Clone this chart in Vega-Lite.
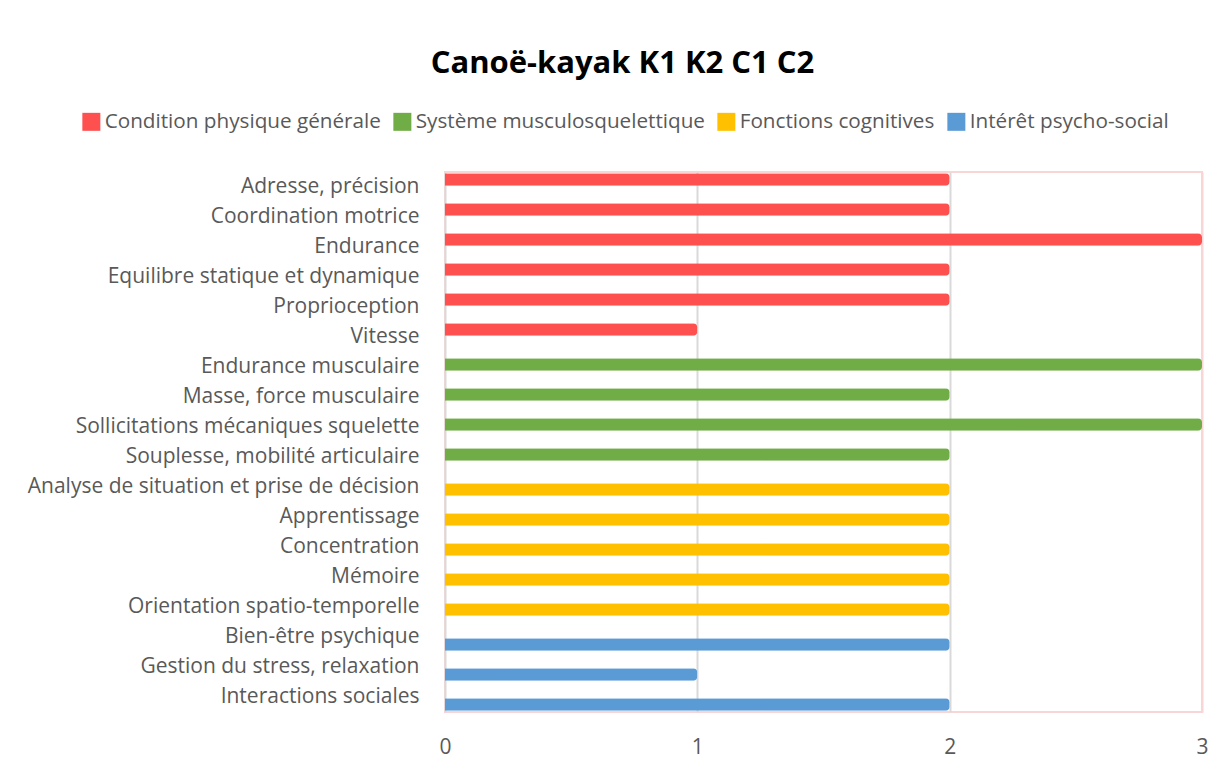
{
  "$schema": "https://vega.github.io/schema/vega-lite/v6.json",
  "autosize": {"type": "none"},
  "width": 757,
  "height": 540,
  "padding": {"left": 445, "top": 172, "right": 23, "bottom": 55},
  "background": "white",
  "config": {
    "font": "Open Sans",
    "view": {"stroke": "#f9d6d6", "strokeWidth": 2}
  },
  "title": {
    "text": "Canoë-kayak K1 K2 C1 C2",
    "font": "Open Sans",
    "fontSize": 31,
    "fontWeight": "bold",
    "color": "#000000",
    "anchor": "middle",
    "dx": -201,
    "offset": 31
  },
  "data": {
    "values": [
      {"critere": "Adresse, précision", "groupe": "Condition physique générale", "valeur": 2},
      {"critere": "Coordination motrice", "groupe": "Condition physique générale", "valeur": 2},
      {"critere": "Endurance", "groupe": "Condition physique générale", "valeur": 3},
      {"critere": "Equilibre statique et dynamique", "groupe": "Condition physique générale", "valeur": 2},
      {"critere": "Proprioception", "groupe": "Condition physique générale", "valeur": 2},
      {"critere": "Vitesse", "groupe": "Condition physique générale", "valeur": 1},
      {"critere": "Endurance musculaire", "groupe": "Système musculosquelettique", "valeur": 3},
      {"critere": "Masse,  force musculaire", "groupe": "Système musculosquelettique", "valeur": 2},
      {"critere": "Sollicitations mécaniques squelette", "groupe": "Système musculosquelettique", "valeur": 3},
      {"critere": "Souplesse, mobilité articulaire", "groupe": "Système musculosquelettique", "valeur": 2},
      {"critere": "Analyse de situation et prise de décision", "groupe": "Fonctions cognitives", "valeur": 2},
      {"critere": "Apprentissage", "groupe": "Fonctions cognitives", "valeur": 2},
      {"critere": "Concentration", "groupe": "Fonctions cognitives", "valeur": 2},
      {"critere": "Mémoire", "groupe": "Fonctions cognitives", "valeur": 2},
      {"critere": "Orientation spatio-temporelle", "groupe": "Fonctions cognitives", "valeur": 2},
      {"critere": "Bien-être psychique", "groupe": "Intérêt psycho-social", "valeur": 2},
      {"critere": "Gestion du stress, relaxation", "groupe": "Intérêt psycho-social", "valeur": 1},
      {"critere": "Interactions sociales", "groupe": "Intérêt psycho-social", "valeur": 2}
    ]
  },
  "mark": {"type": "bar", "height": 12.5, "cornerRadiusEnd": 4},
  "encoding": {
    "y": {
      "field": "critere",
      "type": "nominal",
      "sort": null,
      "scale": {"paddingInner": 0, "paddingOuter": 0},
      "axis": {
        "title": null,
        "ticks": false,
        "domain": false,
        "labelFontSize": 21,
        "labelColor": "#595959",
        "labelPadding": 26,
        "labelLimit": 500
      }
    },
    "yOffset": {
      "field": "groupe",
      "type": "nominal",
      "scale": {
        "domain": ["Condition physique générale", "Système musculosquelettique", "Fonctions cognitives", "Intérêt psycho-social"],
        "paddingInner": 0,
        "paddingOuter": 1
      }
    },
    "x": {
      "field": "valeur",
      "type": "quantitative",
      "scale": {"domain": [0, 3], "nice": false},
      "axis": {
        "title": null,
        "values": [0, 1, 2, 3],
        "format": "d",
        "ticks": false,
        "domain": false,
        "labelFlush": false,
        "labelFontSize": 21,
        "labelColor": "#595959",
        "labelPadding": 24,
        "gridColor": {"condition": {"test": "datum.value === 3", "value": "#f9d6d6"}, "value": "#d9d9d9"},
        "gridWidth": 2
      }
    },
    "color": {
      "field": "groupe",
      "type": "nominal",
      "scale": {
        "domain": ["Condition physique générale", "Système musculosquelettique", "Fonctions cognitives", "Intérêt psycho-social"],
        "range": ["#ff5050", "#70ad47", "#ffc000", "#5b9bd5"]
      },
      "legend": {
        "title": null,
        "orient": "none",
        "direction": "horizontal",
        "legendX": -364,
        "legendY": -61,
        "symbolType": "square",
        "symbolSize": 324,
        "symbolStrokeWidth": 0,
        "symbolOpacity": 1,
        "labelFontSize": 20.7,
        "labelColor": "#595959",
        "labelOffset": 3,
        "columnPadding": 11,
        "labelLimit": 400
      }
    }
  }
}
